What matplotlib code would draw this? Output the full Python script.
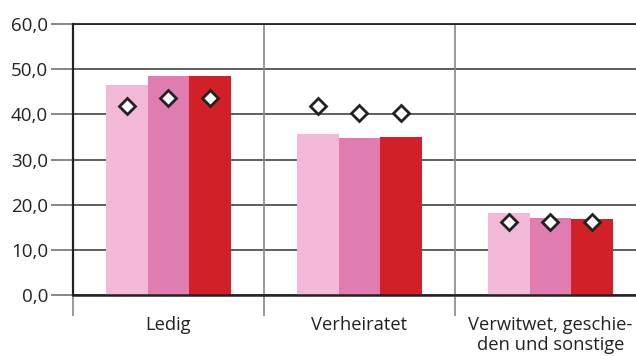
import matplotlib
matplotlib.use("Agg")
import matplotlib.pyplot as plt
import numpy as np

categories = ["Ledig", "Verheiratet", "Verwitwet, geschie-\nden und sonstige"]
bars_a = [46.5, 35.6, 18.2]
bars_b = [48.5, 34.8, 17.1]
bars_c = [48.5, 35.0, 16.8]
markers_a = [41.9, 41.8, 16.1]
markers_b = [43.7, 40.3, 16.1]
markers_c = [43.7, 40.3, 16.1]
yticks = [0, 10, 20, 30, 40, 50, 60]

colors = ["#F3B8D6", "#E07CB0", "#D12028"]

plt.rcParams["font.family"] = ["Open Sans", "DejaVu Sans"]

fig = plt.figure(figsize=(6.36, 3.56), dpi=100)
ax = fig.add_axes([0.1148, 0.1713, 0.8852, 0.7613])

x = np.arange(len(categories))
w = 0.217
for i, (vals, mk) in enumerate(zip([bars_a, bars_b, bars_c],
                                   [markers_a, markers_b, markers_c])):
    pos = x + (i - 1) * w
    ax.bar(pos, vals, width=w, color=colors[i], zorder=2)
    ax.plot(pos, mk, linestyle="none", marker="D", markersize=8.5,
            markerfacecolor="white", markeredgecolor="#222222",
            markeredgewidth=2, zorder=3)

ax.set_ylim(0, 60)
ax.set_xlim(-0.5, 2.448)
ax.set_yticks(yticks)
ax.set_yticklabels([f"{v:.1f}".replace(".", ",") for v in yticks])
ax.yaxis.grid(True, color="#333333", linewidth=1.1, zorder=1)
ax.set_axisbelow(True)

# group separators
for xs in [0.5, 1.5]:
    ax.axvline(xs, color="#888888", linewidth=1.2, zorder=1)

ax.set_xticks([-0.5, 0.5, 1.5])
ax.set_xticklabels([])
ax.set_xticks(x, minor=True)
ax.set_xticklabels(categories, minor=True, fontsize=13.2, color="#222222",
                   linespacing=1.15)
ax.tick_params(axis="x", which="minor", length=0, pad=15)
ax.tick_params(axis="x", which="major", length=15, color="#888888", width=1.2)
ax.tick_params(axis="y", length=16, color="#666666", width=1.1,
               labelsize=13.5, labelcolor="#222222", pad=2)

ax.spines["right"].set_visible(False)
ax.spines["top"].set_color("#222222")
ax.spines["top"].set_linewidth(1.3)
ax.spines["left"].set_color("#222222")
ax.spines["left"].set_linewidth(1.6)
ax.spines["bottom"].set_color("#222222")
ax.spines["bottom"].set_linewidth(1.8)
ax.spines["bottom"].set_zorder(4)

fig.savefig("out.png", dpi=100)
